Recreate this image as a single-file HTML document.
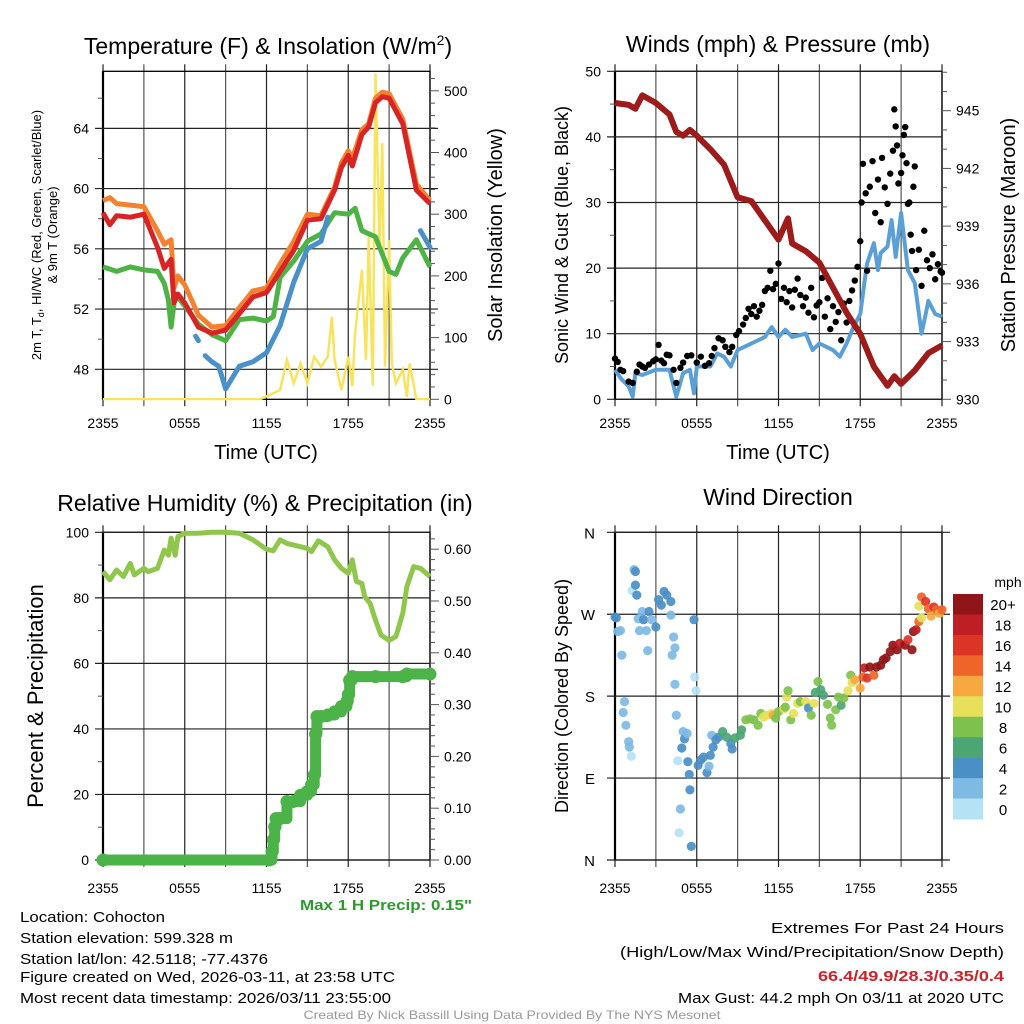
<!DOCTYPE html>
<html><head><meta charset="utf-8"><style>
html,body{margin:0;padding:0;background:#fff}
svg{display:block;font-family:"Liberation Sans",sans-serif}
</style></head><body>
<svg id="fig" width="1024" height="1024" viewBox="0 0 1024 1024" xmlns="http://www.w3.org/2000/svg">
<g id="p1"></g>
<g id="p2"></g>
<g id="p3"></g>
<g id="p4"></g>
<g id="txt">
<text x="268" y="54" font-size="23" text-anchor="middle">Temperature (F) &amp; Insolation (W/m<tspan dy="-9" font-size="14">2</tspan><tspan dy="9">)</tspan></text>
<text x="778" y="52" font-size="23" text-anchor="middle">Winds (mph) &amp; Pressure (mb)</text>
<text x="265" y="511" font-size="23" text-anchor="middle">Relative Humidity (%) &amp; Precipitation (in)</text>
<text x="778" y="505" font-size="23" text-anchor="middle">Wind Direction</text>
<text x="266" y="459" font-size="20" text-anchor="middle">Time (UTC)</text>
<text x="778" y="459" font-size="20" text-anchor="middle">Time (UTC)</text>
<text transform="translate(41,235) rotate(-90)" font-size="13" text-anchor="middle">2m T, T<tspan dy="3" font-size="9">d</tspan><tspan dy="-3">, HI/WC (Red, Green, Scarlet/Blue)</tspan></text>
<text transform="translate(57,235) rotate(-90)" font-size="13" text-anchor="middle">&amp; 9m T (Orange)</text>
<text transform="translate(502,235) rotate(-90)" font-size="20" text-anchor="middle">Solar Insolation (Yellow)</text>
<text transform="translate(568,235) rotate(-90)" font-size="18" text-anchor="middle">Sonic Wind &amp; Gust (Blue, Black)</text>
<text transform="translate(1015,235) rotate(-90)" font-size="20" text-anchor="middle">Station Pressure (Maroon)</text>
<text transform="translate(43,696) rotate(-90)" font-size="22" text-anchor="middle">Percent &amp; Precipitation</text>
<text transform="translate(568,696) rotate(-90)" font-size="18" text-anchor="middle">Direction (Colored By Speed)</text>
<text x="386" y="910" font-size="15" font-weight="bold" fill="#2e9a2e" text-anchor="middle" textLength="172" lengthAdjust="spacingAndGlyphs">Max 1 H Precip: 0.15"</text>
<text x="20" y="922" font-size="15" textLength="145" lengthAdjust="spacingAndGlyphs">Location: Cohocton</text>
<text x="20" y="943" font-size="15" textLength="213" lengthAdjust="spacingAndGlyphs">Station elevation: 599.328 m</text>
<text x="20" y="964" font-size="15" textLength="248" lengthAdjust="spacingAndGlyphs">Station lat/lon: 42.5118; -77.4376</text>
<text x="20" y="982" font-size="15" textLength="375" lengthAdjust="spacingAndGlyphs">Figure created on Wed, 2026-03-11, at 23:58 UTC</text>
<text x="20" y="1003" font-size="15" textLength="371" lengthAdjust="spacingAndGlyphs">Most recent data timestamp: 2026/03/11 23:55:00</text>
<text x="1004" y="933" font-size="15" text-anchor="end" textLength="233" lengthAdjust="spacingAndGlyphs">Extremes For Past 24 Hours</text>
<text x="1004" y="957" font-size="15" text-anchor="end" textLength="384" lengthAdjust="spacingAndGlyphs">(High/Low/Max Wind/Precipitation/Snow Depth)</text>
<text x="1004" y="981" font-size="15" font-weight="bold" fill="#cc2229" text-anchor="end" textLength="186" lengthAdjust="spacingAndGlyphs">66.4/49.9/28.3/0.35/0.4</text>
<text x="1004" y="1003" font-size="15" text-anchor="end" textLength="326" lengthAdjust="spacingAndGlyphs">Max Gust: 44.2 mph On 03/11 at 2020 UTC</text>
<text x="512" y="1019" font-size="12" fill="#999" text-anchor="middle" textLength="417" lengthAdjust="spacingAndGlyphs">Created By Nick Bassill Using Data Provided By The NYS Mesonet</text>
</g>
</svg>
<script>
// ---- data ----
const xTickLabels = ["2355","0555","1155","1755","2355"];
// Panel 1
const tempT  = [0,0.5,1,2,3,4,4.5,5,5.2,5.5,6,7,8,9,10,11,12,13,14,15,16,17,17.5,18,18.3,19,19.5,20,20.5,21,22,22.5,23,24];
const tempRed= [58.4,57.6,58.2,58.1,58.3,56.1,54.7,55.3,52.4,53.0,52.4,50.8,50.4,50.6,51.7,52.8,53.1,54.5,55.9,57.9,58.0,59.9,61.4,62.2,61.5,63.6,64.1,65.7,66.1,66.0,64.3,62.1,59.9,59.0];
const tempOrg= [59.2,59.4,59.0,58.9,58.8,57.2,56.3,56.6,53.4,54.2,53.6,51.6,50.8,50.9,52.1,53.2,53.4,55.0,56.5,58.3,58.2,60.1,61.7,62.5,62.0,63.9,64.3,66.0,66.4,66.3,64.6,62.4,60.3,59.2];
const dewT   = [0,1,2,3,4,4.5,4.8,5,5.3,6,7,8,9,10,11,12,12.5,13,14,15,16,17,18,18.5,19,20,21,21.5,22,23,24];
const dewVal = [54.8,54.5,54.8,54.6,54.5,53.7,52.6,50.8,53.0,52.2,51.0,50.3,49.9,51.3,51.4,51.2,51.5,54.1,55.2,56.5,57.0,58.4,58.3,58.7,57.2,56.8,54.5,54.3,55.4,56.6,54.8];
const wcT    = [6.8,7.0,null,7.5,8,8.5,9,10,11,12,13,14,15,16,16.5,null,23.3,24];
const wcVal  = [50.2,49.9,null,48.9,48.5,48.2,46.7,48.2,48.5,49.1,50.9,53.8,56.0,56.5,58.1,null,57.2,56.1];
const solT   = [0,11.5,12,13,13.5,14,14.5,15,15.5,16,16.5,16.8,17,17.5,18,18.3,18.5,19,19.3,19.5,19.8,20,20.3,20.5,20.7,21,21.2,21.5,22,22.3,22.5,23,24];
const solVal = [0,0,5,15,64,26,58,26,69,53,69,134,64,15,69,21,107,210,64,264,22,528,242,415,53,258,58,26,48,4,58,0,0];
// Panel 2
const windT  = [0,0.5,1,1.3,1.5,2,3,4,4.5,5,5.5,5.8,6,7,7.5,8,8.5,9,10,11,11.5,12,12.5,13,14,14.5,15,16,16.5,17,17.5,18,18.3,18.5,19,19.3,19.5,20,20.3,20.6,21,21.5,22,22.5,23,23.5,24];
const windVal= [4.5,3.0,2,0.4,4,3.7,4.5,4.5,0.4,4,4.5,0.9,5,5,7,6.5,5,7.5,8.5,9.5,11,9.5,10.6,9.5,10,7.5,8.5,7.5,6.5,8.5,11,13,17.7,20.7,23.8,19.7,22.3,23.3,27.3,21.7,28.4,19.7,17.7,10,15,13,12.6];
const gustT  = [0,0.2,0.4,0.6,1,1.3,1.6,1.8,2,2.2,2.5,2.8,3,3.2,3.4,3.6,3.8,4,4.3,4.5,4.8,5,5.3,5.6,6,6.3,6.6,6.9,7.1,7.3,7.6,7.9,8.1,8.4,8.6,8.9,9.1,9.4,9.6,9.8,10,10.2,10.4,10.6,10.8,11,11.2,11.4,11.6,11.8,12,12.2,12.4,12.6,12.8,13,13.2,13.4,13.6,13.8,14,14.2,14.4,14.6,14.8,15,15.2,15.4,15.6,15.8,16,16.2,16.4,16.6,16.8,17,17.2,17.4,17.6,17.8,18,18.1,18.2,18.4,18.5,18.7,18.9,19.1,19.3,19.5,19.6,19.8,20,20.2,20.4,20.5,20.6,20.7,20.8,21,21.1,21.2,21.3,21.4,21.5,21.6,21.7,21.8,21.9,22,22.1,22.3,22.5,22.7,22.9,23.1,23.3,23.5,23.7,23.9,24];
const gustVal= [6.2,5.7,4.5,4.3,2.7,2.5,4.2,5.3,5,4.8,5.3,5.8,6.1,8.3,5.9,5.5,6.8,6.7,4.5,2.5,4.8,5.6,6.6,6.7,5.6,6.5,5.1,5.5,6.6,7.8,9.3,9.0,8.0,7.2,8.0,9.8,10.4,11.4,12.4,13.8,13,14.2,12.6,13.5,14.4,16.5,17,19.6,16.8,17.6,20.7,15.3,17,14.8,16.5,14,16.7,18.4,15.9,14.2,15.5,13.2,17,12.5,14.3,14.8,18.5,12.6,15.4,10.7,14.2,11.8,13.3,9.0,14.6,11.7,15.0,16.6,18.1,20.2,24.1,30,35.9,31.4,19.6,32.4,36.3,28.4,33.5,27.0,36.8,32.3,29.8,34.4,37.9,44.2,41.6,38.7,32.9,34.5,37.2,40.3,41.5,36.0,29.8,30.0,25.1,22.6,32.4,35.5,19.7,22.8,17.3,25.7,21.2,20.0,22.1,18.3,20.6,19.5,19.3];
const presT  = [0,1,1.5,2,3,4,4.5,5,5.5,6,7,8,9,10,11,12,12.7,13,14,15,16,17,18,19,20,20.5,21,22,23,24];
const presVal= [945.4,945.3,945.1,945.8,945.4,944.8,943.9,943.7,944.0,943.7,943.0,942.2,940.5,940.3,939.3,938.3,939.4,938.1,937.7,937.1,935.8,934.5,933.4,931.7,930.7,931.2,930.8,931.5,932.4,932.8];
// Panel 3
const rhT    = [0,0.5,1,1.5,2,2.3,3,3.3,4,4.5,4.8,5,5.3,5.5,6,7,8,9,10,11,12,12.5,13,13.5,14,15,15.3,15.8,16.5,17,17.5,18,18.3,18.6,19,19.2,19.6,20,20.4,21,21.5,22,22.3,22.8,23.3,24];
const rhVal  = [88,85.5,88.5,86.5,90.5,87,89,88,89,94.6,93,98.2,93,98.7,99.7,99.7,100,100,99.7,97.7,94.8,94.4,97.7,96.6,96.1,95.1,94.1,97.4,95.6,91.6,89,87.5,91.6,85,84.4,80.4,78.3,73.2,68.7,67,68.2,75.3,83.4,89.5,89,86.5];
const prT    = [0,12.2,12.4,12.5,12.6,12.7,13,13.5,14,14.5,15,15.3,15.5,15.6,15.7,16,16.5,17,17.5,17.9,18,18.1,18.3,20,22,22.3,24];
const prVal  = [0,0,0.016,0.039,0.064,0.08,0.08,0.113,0.113,0.125,0.132,0.145,0.164,0.243,0.277,0.277,0.28,0.286,0.296,0.306,0.319,0.347,0.354,0.354,0.354,0.359,0.359];
// Panel 4
const dirT   = [0,0.1,0.2,0.4,0.5,0.6,0.7,0.8,1.0,1.05,1.2,1.25,1.4,1.5,1.5,1.6,1.7,1.8,2.0,2.1,2.3,2.4,2.5,2.7,3.0,3.2,3.4,3.6,3.8,4.1,4.1,4.2,4.3,4.4,4.4,4.5,4.6,4.7,4.8,4.9,5.0,5.1,5.3,5.35,5.45,5.5,5.6,5.8,5.85,5.95,6.1,6.3,6.5,6.75,6.9,7.0,7.1,7.2,7.4,7.6,7.9,8.2,8.5,8.6,8.8,9.2,9.3,9.6,9.9,10.2,10.5,10.7,10.9,11.1,11.5,11.6,11.8,12.0,12.4,12.5,12.6,12.7,12.9,13.1,13.4,13.6,14.0,14.2,14.4,14.6,14.7,14.9,15.1,15.3,15.6,15.8,15.9,16.2,16.4,16.6,16.8,17.1,17.3,17.4,17.6,18.0,18.2,18.3,18.5,18.7,19.0,19.2,19.5,19.7,19.9,20.2,20.4,20.7,20.9,21.3,21.5,21.8,21.9,22.1,22.3,22.5,22.3,22.5,22.8,23.0,23.2,23.4,23.6,23.8,24.0];
const dirVal = [267,266,251,252,225,162,174,148,130,124,114,296,319,317,302,291,265,252,273,264,252,230,273,264,256,286,280,295,291,284,269,225,245,233,193,159,109,30,56,123,141,133,139,108,94,77,15,264,201,186,104,110,113,96,103,115,137,124,132,135,141,135,128,122,134,137,143,154,155,154,148,161,157,159,161,159,156,163,166,168,179,186,154,161,172,174,174,167,159,172,184,196,187,181,171,156,148,165,179,170,178,186,203,195,198,189,201,211,200,212,203,212,214,220,222,229,236,231,238,236,242,231,251,253,262,266,279,289,284,276,268,278,275,271,275];
const dirSpd = [4,4,3,3,2,2,2,2,2,2,0,0,3,4,4,4,2,2,3,4,2,2,4,3,4,4,4,4,4,4,3,2,2,2,2,2,0,0,2,4,2,4,2,4,4,4,4,4,1,1,4,4,4,4,3,4,2,4,4,5,6,6,5,4,6,6,7,8,8,8,8,8,10,11,10,13,8,8,10,8,10,8,8,10,10,9,10,5,8,10,6,8,6,6,8,8,8,8,8,6,8,10,8,11,12,13,14,18,16,20,15,20,20,20,20,20,20,20,18,20,17,20,20,18,14,11,11,15,17,14,12,16,14,13,14];
const cbLabels = ["20+","18","16","14","12","10","8","6","4","2","0"];
const cbColors = ["#8f1518","#be1e24","#dc3528","#ef6429","#f7a841","#e6e05a","#7ec24e","#4ba674","#4a8fc6","#7dbae4","#b5e3f6"];

// ---- helpers ----
const NS="http://www.w3.org/2000/svg";
function mk(parent,tag,attrs,text){const e=document.createElementNS(NS,tag);for(const k in attrs)e.setAttribute(k,attrs[k]);if(text!==undefined)e.textContent=text;parent.appendChild(e);return e;}
function pathFrom(ts,vs,xf,yf){let d="",pen=false;for(let i=0;i<ts.length;i++){if(ts[i]===null||vs[i]===null){pen=false;continue;}d+=(pen?"L":"M")+xf(ts[i]).toFixed(1)+","+yf(vs[i]).toFixed(1);pen=true;}return d;}
function stepFrom(ts,vs,xf,yf){let d="";for(let i=0;i<ts.length;i++){const x=xf(ts[i]),y=yf(vs[i]);if(i===0)d+="M"+x+","+y;else d+="L"+x+","+yf(vs[i-1])+"L"+x+","+y;}return d;}
const X0L=103,X0R=615,PW=327,TOP1=71.3,BOT1=399.3,TOP2=532.3,BOT2=860;
const HPX=PW/24;
function frame(g,x0,top,bot,namePrefix){
  for(let i=0;i<=8;i++){const x=x0+i*3*HPX;
    const l=mk(g,"line",{x1:x,x2:x,y1:top-7,y2:bot+7,stroke:(i%2?"#555":"#222"),"stroke-width":1.2});
    
    }
  const r=mk(g,"rect",{x:x0,y:top,width:PW,height:bot-top,fill:"none",stroke:"#000","stroke-width":1.3});
  
  
  const lx=mk(g,"line",{x1:x0,x2:x0,y1:top,y2:bot,stroke:"#000","stroke-width":2.2});
  
  
}
function xLabels(g,x0,y,namePrefix){
  xTickLabels.forEach((s,i)=>{const t=mk(g,"text",{x:x0+i*6*HPX,y:y,"font-size":14,"text-anchor":"middle"},s);
    
    });
}
function hgrid(g,x0,y,len,name){const l=mk(g,"line",{x1:x0-8,x2:x0+PW+(len||0),y1:y,y2:y,stroke:"#222","stroke-width":1.2});
  
  }
function tick(g,x1,x2,y,name){const l=mk(g,"line",{x1:x1,x2:x2,y1:y,y2:y,stroke:"#555","stroke-width":1});
  
  }
function lbl(g,x,y,s,anchor,name){const t=mk(g,"text",{x:x,y:y+5,"font-size":14,"text-anchor":anchor},s);
  
  }

// ---- Panel 1 ----
(function(){
  const g=document.getElementById("p1");
  const xT=t=>X0L+t*HPX, yT=v=>369.3-(v-48)*15.06, yS=v=>BOT1-v*0.617;
  frame(g,X0L,TOP1,BOT1,"temp");
  [48,52,56,60,64].forEach(v=>{hgrid(g,X0L,yT(v),8,"temp-hgrid");lbl(g,X0L-14,yT(v),String(v),"end","temp-y-tick-label");});
  [50,54,58,62,66].forEach(v=>tick(g,X0L-5,X0L,yT(v),"temp-minor-tick"));
  for(let v=0;v<=520;v+=20){tick(g,X0L+PW,X0L+PW+(v%100?5:9),yS(v),"solar-tick");}
  [0,100,200,300,400,500].forEach(v=>lbl(g,X0L+PW+14,yS(v),String(v),"start","solar-y-tick-label"));
  xLabels(g,X0L,428,"temp");
  const cl=mk(g,"clipPath",{id:"c1"});mk(cl,"rect",{x:X0L,y:TOP1-2,width:PW+2,height:BOT1-TOP1+3});
  const s=mk(g,"path",{d:pathFrom(solT,solVal,xT,yS),fill:"none",stroke:"#f8e45c","stroke-width":2.5,"clip-path":"url(#c1)"});
  
  
  const o=mk(g,"path",{d:pathFrom(tempT,tempOrg,xT,yT),fill:"none",stroke:"#f4812e","stroke-width":5,"stroke-linejoin":"round"});
  
  
  const d=mk(g,"path",{d:pathFrom(dewT,dewVal,xT,yT),fill:"none",stroke:"#4db345","stroke-width":5,"stroke-linejoin":"round"});
  
  
  const b=mk(g,"path",{d:pathFrom(wcT,wcVal,xT,yT),fill:"none",stroke:"#4a90c9","stroke-width":5,"stroke-linejoin":"round","stroke-linecap":"round"});
  
  
  const r=mk(g,"path",{d:pathFrom(tempT,tempRed,xT,yT),fill:"none",stroke:"#d92426","stroke-width":5,"stroke-linejoin":"round"});
  
  
})();

// ---- Panel 2 ----
(function(){
  const g=document.getElementById("p2");
  const xW=t=>X0R+t*HPX, yW=v=>BOT1-v*6.56, yP=p=>BOT1-(p-930)*19.24;
  frame(g,X0R,TOP1,BOT1,"winds");
  [0,10,20,30,40,50].forEach(v=>{hgrid(g,X0R,yW(v),0,"winds-hgrid");lbl(g,X0R-14,yW(v),String(v),"end","wind-y-tick-label");});
  [5,15,25,35,45].forEach(v=>tick(g,X0R-5,X0R,yW(v),"wind-minor-tick"));
  for(let p=930;p<=947;p++){tick(g,X0R+PW,X0R+PW+(p%3?5:9),yP(p),"pressure-tick");}
  [930,933,936,939,942,945].forEach(v=>lbl(g,X0R+PW+14,yP(v),String(v),"start","pressure-y-tick-label"));
  xLabels(g,X0R,428,"winds");
  const w=mk(g,"path",{d:pathFrom(windT,windVal,xW,yW),fill:"none",stroke:"#5a9fd6","stroke-width":4,"stroke-linejoin":"round"});
  
  
  gustT.forEach((t,i)=>{const c=mk(g,"circle",{cx:xW(t),cy:yW(gustVal[i]),r:3.2,fill:"#000"});
    
    });
  const p=mk(g,"path",{d:pathFrom(presT,presVal,xW,yP),fill:"none",stroke:"#9e1b1b","stroke-width":6,"stroke-linejoin":"round"});
  
  
})();

// ---- Panel 3 ----
(function(){
  const g=document.getElementById("p3");
  const xR=t=>X0L+t*HPX, yH=v=>BOT2-v*3.277, yPr=p=>BOT2-p*518;
  frame(g,X0L,TOP2,BOT2,"humidity");
  [0,20,40,60,80,100].forEach(v=>{hgrid(g,X0L,yH(v),0,"humidity-hgrid");lbl(g,X0L-14,yH(v),String(v),"end","humidity-y-tick-label");});
  [10,30,50,70,90].forEach(v=>tick(g,X0L-5,X0L,yH(v),"humidity-minor-tick"));
  for(let i=0;i<=31;i++){const p=i*0.02;tick(g,X0L+PW,X0L+PW+(i%5?5:9),yPr(p),"precip-tick");}
  [0,0.1,0.2,0.3,0.4,0.5,0.6].forEach(v=>lbl(g,X0L+PW+14,yPr(v),v.toFixed(2),"start","precip-y-tick-label"));
  xLabels(g,X0L,893,"humidity");
  const rh=mk(g,"path",{d:pathFrom(rhT,rhVal,xR,yH),fill:"none",stroke:"#8fc64c","stroke-width":5,"stroke-linejoin":"round"});
  
  
  const pl=mk(g,"path",{d:stepFrom(prT,prVal,xR,yPr),fill:"none",stroke:"#4bb347","stroke-width":11,"stroke-linecap":"round","stroke-linejoin":"round"});
  
  
  prT.forEach((t,i)=>{const c=mk(g,"circle",{cx:xR(t),cy:yPr(prVal[i]),r:6.5,fill:"#4bb347"});
    
    });
})();

// ---- Panel 4 ----
(function(){
  const g=document.getElementById("p4");
  const xD=t=>X0R+t*HPX, yD=d=>BOT2-d*((BOT2-TOP2)/360);
  frame(g,X0R,TOP2,BOT2,"direction");
  const dl=["N","E","S","W","N"];
  [0,90,180,270,360].forEach((d,i)=>{hgrid(g,X0R,yD(d),8,"direction-hgrid");
    const t=mk(g,"text",{x:X0R-20,y:yD(d)+6,"font-size":15,"text-anchor":"end"},dl[i]);
    
    });
  xLabels(g,X0R,893,"direction");
  const col=s=>cbColors[10-Math.min(10,Math.floor(s/2))];
  dirT.forEach((t,i)=>{const c=mk(g,"circle",{cx:xD(t),cy:yD(dirVal[i]),r:4.6,fill:col(dirSpd[i]),"fill-opacity":0.92});
    
    });
  const cb=mk(g,"g",{});
  
  
  const cy0=594,ch=225/11;
  cbColors.forEach((c,i)=>{const r=mk(cb,"rect",{x:953,y:cy0+i*ch,width:30,height:ch+0.5,fill:c});
    
    
    const t=mk(cb,"text",{x:1003,y:cy0+i*ch+ch/2+6,"font-size":15,"text-anchor":"middle"},cbLabels[i]);
    
    });
  const m=mk(cb,"text",{x:1008,y:587,"font-size":14,"text-anchor":"middle"},"mph");
  
  
})();
</script>
</body></html>
